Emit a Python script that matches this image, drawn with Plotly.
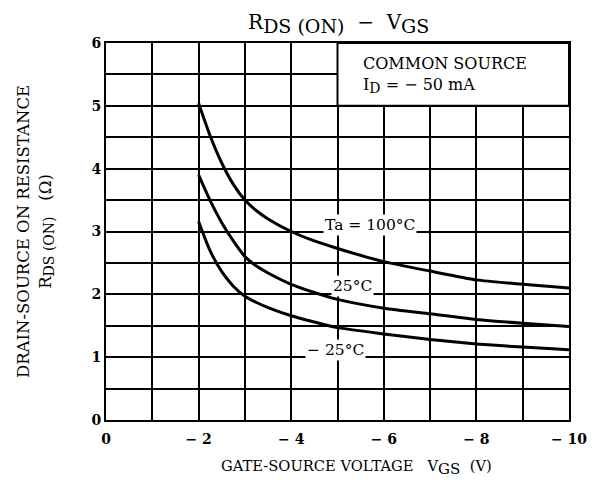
import plotly.graph_objects as go

# Data
vgs = [-2, -2.25, -2.5, -2.75, -3, -3.25, -3.5, -4, -4.5, -5, -6, -7, -8, -9, -10]
r_100c = [5.04, 4.52, 4.09, 3.75, 3.5, 3.33, 3.2, 3.0, 2.85, 2.73, 2.52, 2.37, 2.23, 2.16, 2.1]
r_25c = [3.9, 3.49, 3.14, 2.85, 2.6, 2.45, 2.34, 2.16, 2.03, 1.92, 1.78, 1.69, 1.6, 1.54, 1.49]
r_m25c = [3.16, 2.69, 2.36, 2.13, 1.97, 1.87, 1.79, 1.66, 1.56, 1.47, 1.37, 1.28, 1.21, 1.16, 1.12]

x_tickvals = [0, -2, -4, -6, -8, -10]
x_ticktext = ["0", "\u2212 2", "\u2212 4", "\u2212 6", "\u2212 8", "\u2212 10"]
y_tickvals = [0, 1, 2, 3, 4, 5, 6]
y_ticktext = ["0", "1", "2", "3", "4", "5", "6"]

FONT = "DejaVu Serif"
NB = "\u00a0"


def sub(txt, px):
    return "<sub><span style='font-size:%dpx'>%s</span></sub>" % (px, txt)


fig = go.Figure()
for ys in (r_100c, r_25c, r_m25c):
    fig.add_trace(go.Scatter(x=vgs, y=ys, mode="lines",
                             line=dict(color="black", width=3, shape="spline", smoothing=0.6),
                             showlegend=False, hoverinfo="skip"))

# Box with condition text (covers the grid)
fig.add_shape(type="rect", x0=-5, x1=-10, y0=5, y1=6, xref="x", yref="y",
              fillcolor="white", line=dict(color="black", width=2), layer="above")
fig.add_annotation(x=-5.5, y=5.67, xref="x", yref="y", text="COMMON SOURCE",
                   showarrow=False, xanchor="left", yanchor="middle",
                   font=dict(family=FONT, size=16, color="black"))
fig.add_annotation(x=-5.5, y=5.32, xref="x", yref="y",
                   text="I" + sub("D", 14) + " = \u2212 50 mA",
                   showarrow=False, xanchor="left", yanchor="middle",
                   font=dict(family=FONT, size=16, color="black"))

# Curve labels
labels = [("Ta = 100\u00b0C", -5.7, 3.1), ("25\u00b0C", -5.33, 2.13), ("\u2212 25\u00b0C", -4.95, 1.11)]
for txt, lx, ly in labels:
    fig.add_annotation(x=lx, y=ly, xref="x", yref="y", text=txt, showarrow=False,
                       bgcolor="white", borderpad=1,
                       font=dict(family=FONT, size=15.5, color="black"))

# X axis title (placed to match the reference position)
fig.add_annotation(x=0.54, y=-0.125, xref="paper", yref="paper",
                   text="GATE-SOURCE VOLTAGE" + NB * 2 + " V" + sub("GS", 15) + NB * 2 + "(V)",
                   showarrow=False, xanchor="center", yanchor="middle",
                   font=dict(family=FONT, size=14.7, color="black"))

fig.update_layout(
    width=598, height=486,
    margin=dict(l=98, r=37, t=35, b=74),
    paper_bgcolor="white", plot_bgcolor="white",
    title=dict(text="R" + sub("DS (ON)", 19) + NB + " \u2212 " + NB + "V" + sub("GS", 19),
               x=0.553, xanchor="center", y=0.972, yanchor="middle",
               font=dict(family=FONT, size=20, color="black")),
    font=dict(family=FONT, color="black"),
)
fig.update_xaxes(range=[0, -10], tickvals=x_tickvals, ticktext=x_ticktext,
                 showgrid=True, gridcolor="black", gridwidth=1.5,
                 minor=dict(dtick=1, tick0=0, showgrid=True, gridcolor="black", gridwidth=1.5),
                 showline=True, linecolor="black", linewidth=2, mirror=True,
                 zeroline=False, ticks="", ticklabelstandoff=5,
                 tickfont=dict(family=FONT, size=14, color="black", weight="bold"))
fig.update_yaxes(range=[0, 6], tickvals=y_tickvals, ticktext=y_ticktext,
                 showgrid=True, gridcolor="black", gridwidth=1.5,
                 minor=dict(dtick=0.5, tick0=0, showgrid=True, gridcolor="black", gridwidth=1.5),
                 showline=True, linecolor="black", linewidth=2, mirror=True,
                 zeroline=False, ticks="",
                 tickfont=dict(family=FONT, size=14, color="black", weight="bold"),
                 title=dict(text="DRAIN-SOURCE ON RESISTANCE<br>R" + sub("DS (ON)", 14) + "   (\u03a9)",
                            standoff=36,
                            font=dict(family=FONT, size=16.5, color="black")))

fig.write_html("out.html")
